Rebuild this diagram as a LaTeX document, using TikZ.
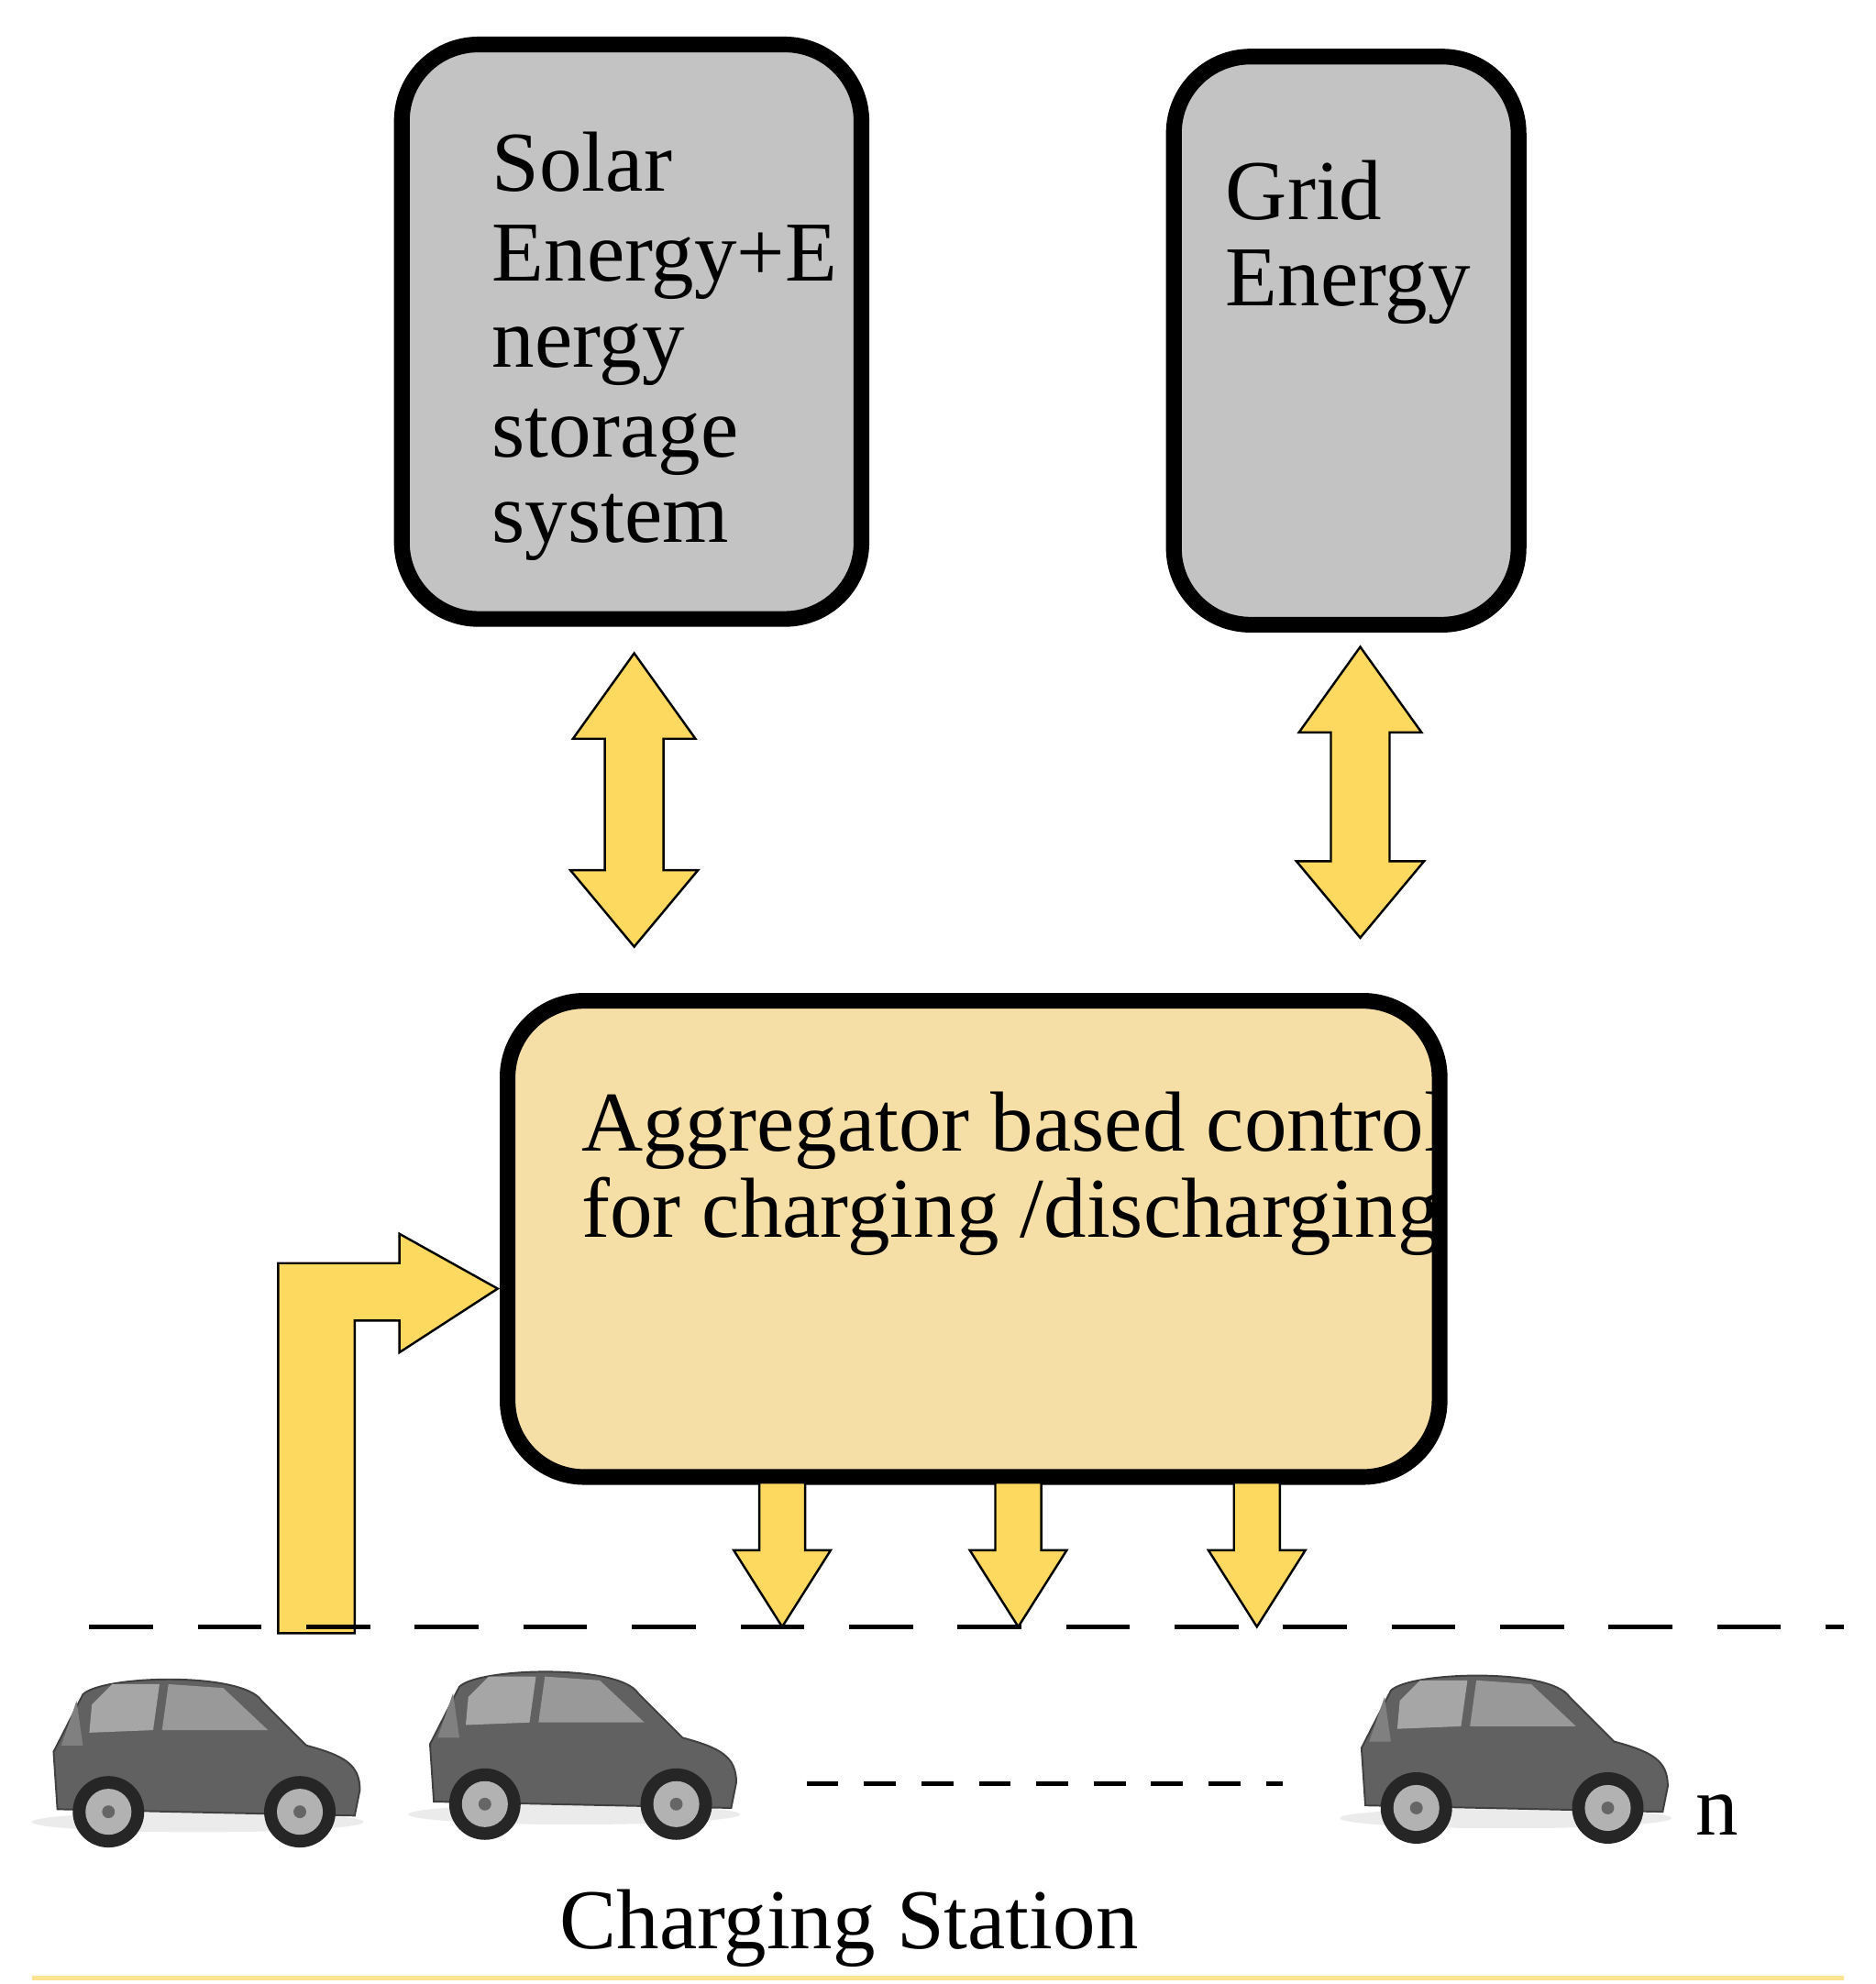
\documentclass[tikz,border=0pt]{standalone}
\usepackage{fontspec}
\setmainfont{Liberation Serif}
\begin{document}
\begin{tikzpicture}[x=0.01cm,y=-0.01cm,
  box/.style={draw=black,line width=3.5pt,rounded corners=0.6cm},
  yarrow/.style={fill=arrowyellow,draw=black,line width=0.5pt,line join=miter},
  lbl/.style={font=\fontsize{19}{20}\selectfont,anchor=base west,inner sep=0pt},
  car/.pic={
    \fill[black!8] (-5,0) ellipse (130 and 8);
    \fill[black!62,draw=black!75,line width=0.4pt]
      (-115,-10) -- (-118,-55) -- (-95,-100) .. controls (-80,-115) and (30,-118) .. (45,-95)
      -- (80,-60) .. controls (110,-52) and (122,-45) .. (122,-25) -- (118,-5) -- cycle;
    \fill[black!35] (-88,-92) -- (-72,-108) -- (-35,-108) -- (-40,-72) -- (-90,-70) -- cycle;
    \fill[black!40] (-28,-108) -- (15,-105) -- (50,-72) -- (-33,-72) -- cycle;
    \fill[black!50] (-112,-60) -- (-100,-95) -- (-95,-60) -- cycle;
    \foreach \wx in {-75,75}{
      \fill[black!85] (\wx,-8) circle (28);
      \fill[black!30] (\wx,-8) circle (18);
      \fill[black!60] (\wx,-8) circle (5);}
  }]
\definecolor{arrowyellow}{HTML}{FDD960}
\definecolor{boxgray}{HTML}{C3C3C3}
\definecolor{aggfill}{HTML}{F5DFA6}
\useasboundingbox (0,0) rectangle (1470,1555);

% boxes
\node[box,fill=boxgray,minimum width=3.6cm,minimum height=4.5cm] (solar) at (495,260) {};
\node[box,fill=boxgray,minimum width=2.7cm,minimum height=4.45cm] (grid) at (1055,267) {};
\node[box,fill=aggfill,minimum width=7.3cm,minimum height=3.73cm] (agg) at (763,971) {};

% texts
\node[lbl] (s1) at (385,150) {Solar};
\node[lbl] (s2) at (385,220) {Energy+E};
\node[lbl] (s3) at (385,288) {nergy};
\node[lbl] (s4) at (385,358) {storage};
\node[lbl] (s5) at (385,425) {system};
\node[lbl] (g1) at (960,172) {Grid};
\node[lbl] (g2) at (960,240) {Energy};
\node[lbl] (a1) at (455,902) {Aggregator based control};
\node[lbl] (a2) at (455,970) {for charging /discharging};

% double arrows
\foreach \cx/\ya/\yb in {497/512/742, 1066/507/735}{
  \draw[yarrow] (\cx,\ya) -- (\cx+48,\ya+67) -- (\cx+23,\ya+67) -- (\cx+23,\yb-60)
    -- (\cx+50,\yb-60) -- (\cx,\yb) -- (\cx-50,\yb-60) -- (\cx-23,\yb-60)
    -- (\cx-23,\ya+67) -- (\cx-48,\ya+67) -- cycle;}

% down arrows
\foreach \cx in {613,798,985}{
  \draw[yarrow] (\cx-18,1162) -- (\cx+18,1162) -- (\cx+18,1215) -- (\cx+38,1215)
    -- (\cx,1275) -- (\cx-38,1215) -- (\cx-18,1215) -- cycle;}

% L arrow
\draw[yarrow] (218,1280) -- (218,990) -- (313,990) -- (313,967) -- (390,1010)
  -- (313,1060) -- (313,1035) -- (278,1035) -- (278,1280) -- cycle;

% dashed lines
\draw[line width=1pt,dash pattern=on 0.5cm off 0.35cm] (70,1275) -- (1445,1275);
\draw[line width=1pt,dash pattern=on 0.25cm off 0.2cm] (632,1398) -- (1005,1398);

% cars
\pic at (160,1428) {car};
\pic at (455,1422) {car};
\pic at (1185,1425) {car};
\node[lbl] (n) at (1328,1438) {n};

\node[lbl] (cs) at (438,1527) {Charging Station};
\draw[draw=arrowyellow!70,line width=1pt] (25,1550) -- (1445,1550);
\end{tikzpicture}
\end{document}
